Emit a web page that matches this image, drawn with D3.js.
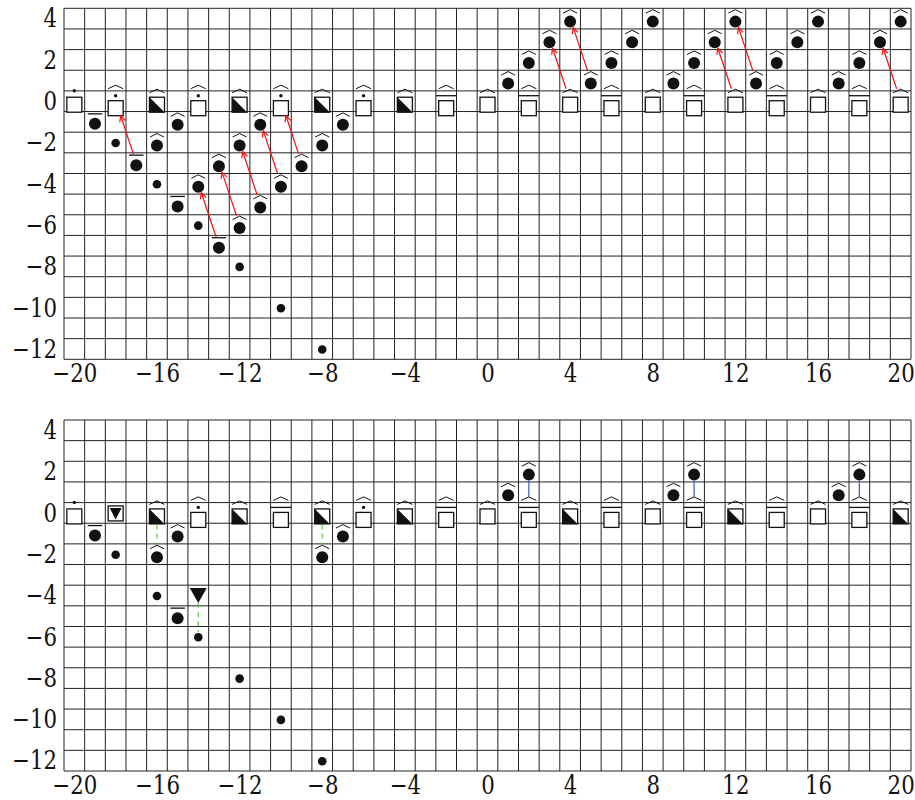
<!DOCTYPE html>
<html>
<head>
<meta charset="utf-8">
<script src="https://cdn.jsdelivr.net/npm/d3@7"></script>
<style>
  body { margin: 0; background: #fff; }
</style>
</head>
<body>
<div id="container"></div>
<script>
// tick labels
let xTicks = [-20, -16, -12, -8, -4, 0, 4, 8, 12, 16, 20];
let yTicks = [4, 2, 0, -2, -4, -6, -8, -10, -12];

// row of boxes at y = 0 (same x for both panels)
let rowX = [-20, -18, -16, -14, -12, -10, -8, -6, -4, -2, 0, 2, 4, 6, 8, 10, 12, 14, 16, 18, 20];

// top panel
let topRowShape = ['box', 'box', 'half', 'box', 'half', 'box', 'half', 'box', 'half', 'box', 'box',
    'box', 'box', 'box', 'box', 'box', 'box', 'box', 'box', 'box', 'box'];
let topRowAccent = ['dot', 'hat-dot', 'hat', 'hat-dot', 'hat', 'hat-dot', 'hat', 'hat-dot', 'hat', 'hat-bar', 'hat',
    'hat-bar', 'hat', 'hat-bar', 'hat', 'hat-bar', 'hat', 'hat-bar', 'hat', 'hat-bar', 'hat'];
let topCircleX = [-19, -17, -16, -15, -15, -14, -13, -13, -12, -12, -11, -11, -10, -9, -8, -7,
    1, 2, 3, 4, 5, 6, 7, 8, 9, 10, 11, 12, 13, 14, 15, 16, 17, 18, 19, 20];
let topCircleY = [-1, -3, -2, -1, -5, -4, -3, -7, -2, -6, -1, -5, -4, -3, -2, -1,
    1, 2, 3, 4, 1, 2, 3, 4, 1, 2, 3, 4, 1, 2, 3, 4, 1, 2, 3, 4];
let topCircleAccent = ['bar', 'bar', 'hat', 'hat', 'bar', 'hat', 'hat', 'bar', 'hat', 'hat', 'hat', 'hat', 'hat', 'hat', 'hat', 'hat',
    'hat', 'hat', 'hat', 'hat', 'hat', 'hat', 'hat', 'hat', 'hat', 'hat', 'hat', 'hat', 'hat', 'hat', 'hat', 'hat', 'hat', 'hat', 'hat', 'hat'];
let topDotX = [-18, -16, -14, -12, -10, -8];
let topDotY = [-2, -4, -6, -8, -10, -12];
let topArrowFrom = [[-17, -3], [-13, -7], [-12, -6], [-11, -5], [-10, -4], [-9, -3], [4, 0], [5, 1], [12, 0], [13, 1], [20, 0]];
let topArrowTo = [[-18, 0], [-14, -4], [-13, -3], [-12, -2], [-11, -1], [-10, 0], [3, 3], [4, 4], [11, 3], [12, 4], [19, 3]];

// bottom panel
let botRowShape = ['box', 'boxtri', 'half', 'box', 'half', 'box', 'half', 'box', 'half', 'box', 'box',
    'box', 'half', 'box', 'box', 'box', 'half', 'box', 'box', 'box', 'half'];
let botRowAccent = ['dot', 'none', 'hat', 'hat-dot', 'hat', 'hat-bar', 'hat', 'hat-dot', 'hat', 'hat-bar', 'hat',
    'hat-bar', 'hat', 'hat-bar', 'hat', 'hat-bar', 'hat', 'hat-bar', 'hat', 'hat-bar', 'hat'];
let botCircleX = [-19, -16, -15, -15, -8, -7, 1, 2, 9, 10, 17, 18];
let botCircleY = [-1, -2, -1, -5, -2, -1, 1, 2, 1, 2, 1, 2];
let botCircleAccent = ['bar', 'hat', 'hat', 'bar', 'hat', 'hat', 'hat', 'hat', 'hat', 'hat', 'hat', 'hat'];
let botDotX = [-18, -16, -14, -12, -10, -8];
let botDotY = [-2, -4, -6, -8, -10, -12];
let botTriX = [-14];
let botTriY = [-4];
let greenFrom = [[-16, 0], [-14, -4], [-8, 0]];
let greenTo = [[-16, -2], [-14, -6], [-8, -2]];
let blueFrom = [[2, 2], [10, 2], [18, 2]];
let blueTo = [[2, 0], [10, 0], [18, 0]];

let width = 915, height = 800;
let left = 64, right = 911, plotH = 351;
let panelTops = [8.3, 420];
let ink = '#111';
let serif = "'DejaVu Serif', serif";
let squeeze = 0.82;   // narrows DejaVu digits towards the reference face

let svg = d3.select('#container').append('svg')
    .attr('width', width).attr('height', height)
    .style('background', '#fff');

let x = d3.scaleLinear().domain([-20.5, 20.5]).range([left, right]);
let y = d3.scaleLinear().domain([-12.5, 4.5]).range([plotH, 0]);

function buildNodes(shapes, accents, cx, cy, ca, dx, dy, tx, ty) {
    let nodes = [];
    rowX.forEach((v, i) => nodes.push({ x: v, y: 0, kind: shapes[i], accent: accents[i] }));
    cx.forEach((v, i) => nodes.push({ x: v, y: cy[i], kind: 'circle', accent: ca[i] }));
    dx.forEach((v, i) => nodes.push({ x: v, y: dy[i], kind: 'dot', accent: 'none' }));
    (tx || []).forEach((v, i) => nodes.push({ x: v, y: ty[i], kind: 'tri', accent: 'none' }));
    return nodes;
}

// vertical extent of a node, relative to the cell centre
function extent(n) {
    if (n.kind == 'circle') return n.accent == 'hat' ? [-9.5, 9] : [-8.5, 8];
    if (n.kind == 'dot') return [-4.5, 4.5];
    if (n.kind == 'tri') return [-7.5, 7.5];
    let k = n.accent == 'none' ? 0 : n.accent.split('-').length;
    return [[-8, 8], [-12.5, 11.5], [-16, 14.5]][k];
}

function hat(g, cx, apex, base, w) {
    g.append('path')
        .attr('d', `M${cx - w / 2},${base}L${cx},${apex}L${cx + w / 2},${base}`)
        .attr('fill', 'none').attr('stroke', ink).attr('stroke-width', 1);
}
function bar(g, cx, yy, w) {
    g.append('line').attr('x1', cx - w / 2).attr('x2', cx + w / 2).attr('y1', yy).attr('y2', yy)
        .attr('stroke', ink).attr('stroke-width', 1.3);
}
function dotAcc(g, cx, yy) {
    g.append('circle').attr('cx', cx).attr('cy', yy).attr('r', 1.7).attr('fill', ink);
}

function drawNode(g, n) {
    let cx = x(n.x), cy = y(n.y);
    if (n.kind == 'circle') {
        let off = n.accent == 'hat' ? 3 : 2;
        g.append('circle').attr('cx', cx).attr('cy', cy + off).attr('r', 6).attr('fill', ink);
        if (n.accent == 'hat') hat(g, cx, cy - 9, cy - 5.5, 14);
        else bar(g, cx, cy - 8, 14.5);
        return;
    }
    if (n.kind == 'dot') {
        g.append('circle').attr('cx', cx).attr('cy', cy + 0.5).attr('r', 4.3).attr('fill', ink);
        return;
    }
    if (n.kind == 'tri') {
        g.append('path').attr('d', `M${cx - 8.5},${cy - 7.5}L${cx + 8.5},${cy - 7.5}L${cx},${cy + 7.5}Z`).attr('fill', ink);
        return;
    }
    let acc = n.accent == 'none' ? [] : n.accent.split('-');
    let sq = cy + [0.5, 3.5, 7][acc.length];
    g.append('rect').attr('x', cx - 7.5).attr('y', sq - 7.5).attr('width', 15).attr('height', 15)
        .attr('fill', '#fff').attr('stroke', ink).attr('stroke-width', 1.3);
    if (n.kind == 'half') {
        g.append('path').attr('d', `M${cx - 7.5},${sq - 7.5}L${cx - 7.5},${sq + 7.5}L${cx + 7.5},${sq + 7.5}Z`).attr('fill', ink);
    }
    if (n.kind == 'boxtri') {
        g.append('path').attr('d', `M${cx - 6},${sq - 5.5}L${cx + 6},${sq - 5.5}L${cx},${sq + 6}Z`).attr('fill', ink);
    }
    if (acc.length == 1) {
        if (acc[0] == 'hat') hat(g, cx, cy - 12, cy - 8.5, 15);
        if (acc[0] == 'dot') dotAcc(g, cx, cy - 10.5);
    } else if (acc.length == 2) {
        hat(g, cx, cy - 16, cy - 12.5, 15);
        if (acc[1] == 'dot') dotAcc(g, cx, cy - 5.5);
        if (acc[1] == 'bar') bar(g, cx, cy - 5.5, 20.5);
    }
}

function findNode(nodes, p) {
    return nodes.find(n => n.x == p[0] && n.y == p[1]);
}

// point where the centre-to-centre line leaves the node box
function clip(n, tx, ty) {
    let e = extent(n);
    let ncx = x(n.x), ncy = y(n.y) + (e[0] + e[1]) / 2;
    let hh = (e[1] - e[0]) / 2, hw = 9;
    let dx = tx - ncx, dy = ty - ncy;
    let t = Math.min(dx != 0 ? hw / Math.abs(dx) : Infinity, dy != 0 ? hh / Math.abs(dy) : Infinity);
    return [ncx + dx * t, ncy + dy * t];
}
function centre(n) {
    let e = extent(n);
    return [x(n.x), y(n.y) + (e[0] + e[1]) / 2];
}

function link(g, nodes, a, b, style, arrow) {
    let na = findNode(nodes, a), nb = findNode(nodes, b);
    let ca = centre(na), cb = centre(nb);
    let p = clip(na, cb[0], cb[1]), q = clip(nb, ca[0], ca[1]);
    g.append('line').attr('x1', p[0]).attr('y1', p[1]).attr('x2', q[0]).attr('y2', q[1])
        .attr('stroke', style.color).attr('stroke-width', style.width)
        .attr('stroke-dasharray', style.dash || null);
    if (arrow) {
        let len = Math.hypot(q[0] - p[0], q[1] - p[1]);
        let ux = (q[0] - p[0]) / len, uy = (q[1] - p[1]) / len;
        let L = 6, W = 3;
        g.append('path')
            .attr('d', `M${q[0] - L * ux - W * uy},${q[1] - L * uy + W * ux}L${q[0]},${q[1]}L${q[0] - L * ux + W * uy},${q[1] - L * uy - W * ux}`)
            .attr('fill', 'none').attr('stroke', style.color).attr('stroke-width', style.width);
    }
}

let panels = [
    {
        nodes: buildNodes(topRowShape, topRowAccent, topCircleX, topCircleY, topCircleAccent, topDotX, topDotY),
        links: topArrowFrom.map((d, i) => ({ a: d, b: topArrowTo[i], style: { color: '#f01010', width: 1.2 }, arrow: true }))
    },
    {
        nodes: buildNodes(botRowShape, botRowAccent, botCircleX, botCircleY, botCircleAccent, botDotX, botDotY, botTriX, botTriY),
        links: greenFrom.map((d, i) => ({ a: d, b: greenTo[i], style: { color: '#6cc43c', width: 1.2, dash: '5,4' } }))
            .concat(blueFrom.map((d, i) => ({ a: d, b: blueTo[i], style: { color: '#3a5bc4', width: 1.2 } })))
    }
];

panels.forEach((panel, pi) => {
    let g = svg.append('g').attr('transform', 'translate(0,' + panelTops[pi] + ')');

    let grid = g.append('g').attr('class', 'grid');
    d3.range(-20.5, 21, 1).forEach(v => {
        grid.append('line').attr('x1', x(v)).attr('x2', x(v)).attr('y1', 0).attr('y2', plotH)
            .attr('stroke', '#222').attr('stroke-width', 1);
    });
    d3.range(-12.5, 5, 1).forEach(v => {
        grid.append('line').attr('x1', left).attr('x2', right).attr('y1', y(v)).attr('y2', y(v))
            .attr('stroke', '#222').attr('stroke-width', 1);
    });

    let yAxis = g.append('g').attr('class', 'yAxis')
        .attr('transform', 'translate(' + left + ',0)')
        .call(d3.axisLeft(y).tickValues(yTicks).tickSize(0).tickPadding(7))
        .call(s => s.select('.domain').remove());
    yAxis.selectAll('text').attr('x', -7 / squeeze);

    let xAxis = g.append('g').attr('class', 'xAxis')
        .attr('transform', 'translate(0,' + plotH + ')')
        .call(d3.axisBottom(x).tickValues(xTicks).tickSize(0).tickPadding(6))
        .call(s => s.select('.domain').remove());
    xAxis.selectAll('text').attr('dy', '0.66em');

    [yAxis, xAxis].forEach(ax => {
        ax.attr('font-family', serif).attr('font-size', 26);
        ax.selectAll('text').attr('fill', ink).attr('transform', 'scale(' + squeeze + ',1)');
    });

    let lg = g.append('g');
    let mg = g.append('g');
    panel.nodes.forEach(n => drawNode(mg, n));
    panel.links.forEach(l => link(lg, panel.nodes, l.a, l.b, l.style, l.arrow));
    // arrows sit above markers in the reference
    lg.raise();
});
</script>
</body>
</html>
